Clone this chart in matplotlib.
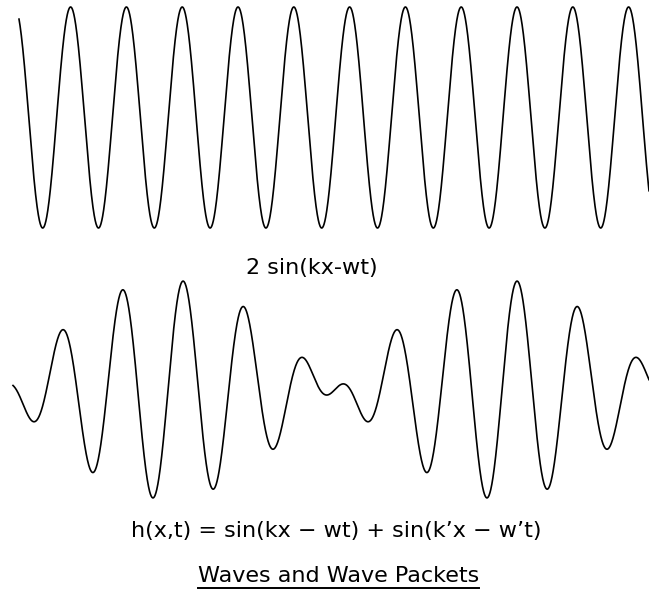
#!/usr/bin/env python3
"""
Waves and wave packets: a single travelling wave 2 sin(kx - wt) on top,
and the sum of two waves of slightly different wavenumber below, which
beats into a train of wave packets.

Outputs: out.png
"""

import matplotlib
matplotlib.use("Agg")
import matplotlib.pyplot as plt
from matplotlib.lines import Line2D
import numpy as np

# Wave parameters (x in screen units).
X_TOP = (19.0, 649.0)          # extent of the single wave
K_TOP = 0.11260                # k   (wavelength ~55.8)
WT_TOP = 0.096                 # wt
AMP_TOP = 2.0

X_BOT = (13.0, 649.0)          # extent of the packet train
K1, WT1 = 0.112872, 0.1146     # k,  wt
K2, WT2 = 0.094060, 3.238      # k', w't

TITLE_TOP = "2 sin(kx-wt)"
TITLE_BOT = "h(x,t) = sin(kx \u2212 wt) + sin(k\u2019x \u2212 w\u2019t)"
CAPTION = "Waves and Wave Packets"

W, H = 649, 594


def main() -> int:
    fig = plt.figure(figsize=(W / 100, H / 100), dpi=100)
    fig.patch.set_facecolor("white")

    # Top panel: +-2 spans pixel rows 7..228
    ax1 = fig.add_axes([0, 1 - 228 / H, 1, 221 / H])
    x = np.linspace(*X_TOP, 3000)
    ax1.plot(x, AMP_TOP * np.sin(K_TOP * x - WT_TOP), color="black", lw=1.2,
             clip_on=False)
    ax1.set_xlim(0, W)
    ax1.set_ylim(-2, 2)
    ax1.axis("off")

    # Bottom panel: +-2 spans pixel rows 280..499
    ax2 = fig.add_axes([0, 1 - 499 / H, 1, 219 / H])
    x = np.linspace(*X_BOT, 3000)
    h = np.sin(K1 * x - WT1) + np.sin(K2 * x - WT2)
    ax2.plot(x, h, color="black", lw=1.2, clip_on=False)
    ax2.set_xlim(0, W)
    ax2.set_ylim(-2, 2)
    ax2.axis("off")

    kw = dict(ha="center", va="baseline", fontsize=16, family="DejaVu Sans",
              color="black")
    fig.text(312 / W, 1 - 274 / H, TITLE_TOP, **kw)
    fig.text(336 / W, 1 - 537 / H, TITLE_BOT, **kw)
    cap = fig.text(338.5 / W, 1 - 581.5 / H, CAPTION, **kw)

    # underline the caption
    fig.canvas.draw()
    bb = cap.get_window_extent().transformed(fig.transFigure.inverted())
    y_ul = 1 - 587.5 / H
    fig.add_artist(Line2D([bb.x0, bb.x1], [y_ul, y_ul], color="black", lw=1.4,
                          transform=fig.transFigure))

    fig.savefig("out.png", dpi=100, facecolor="white")
    return 0


if __name__ == "__main__":
    raise SystemExit(main())
